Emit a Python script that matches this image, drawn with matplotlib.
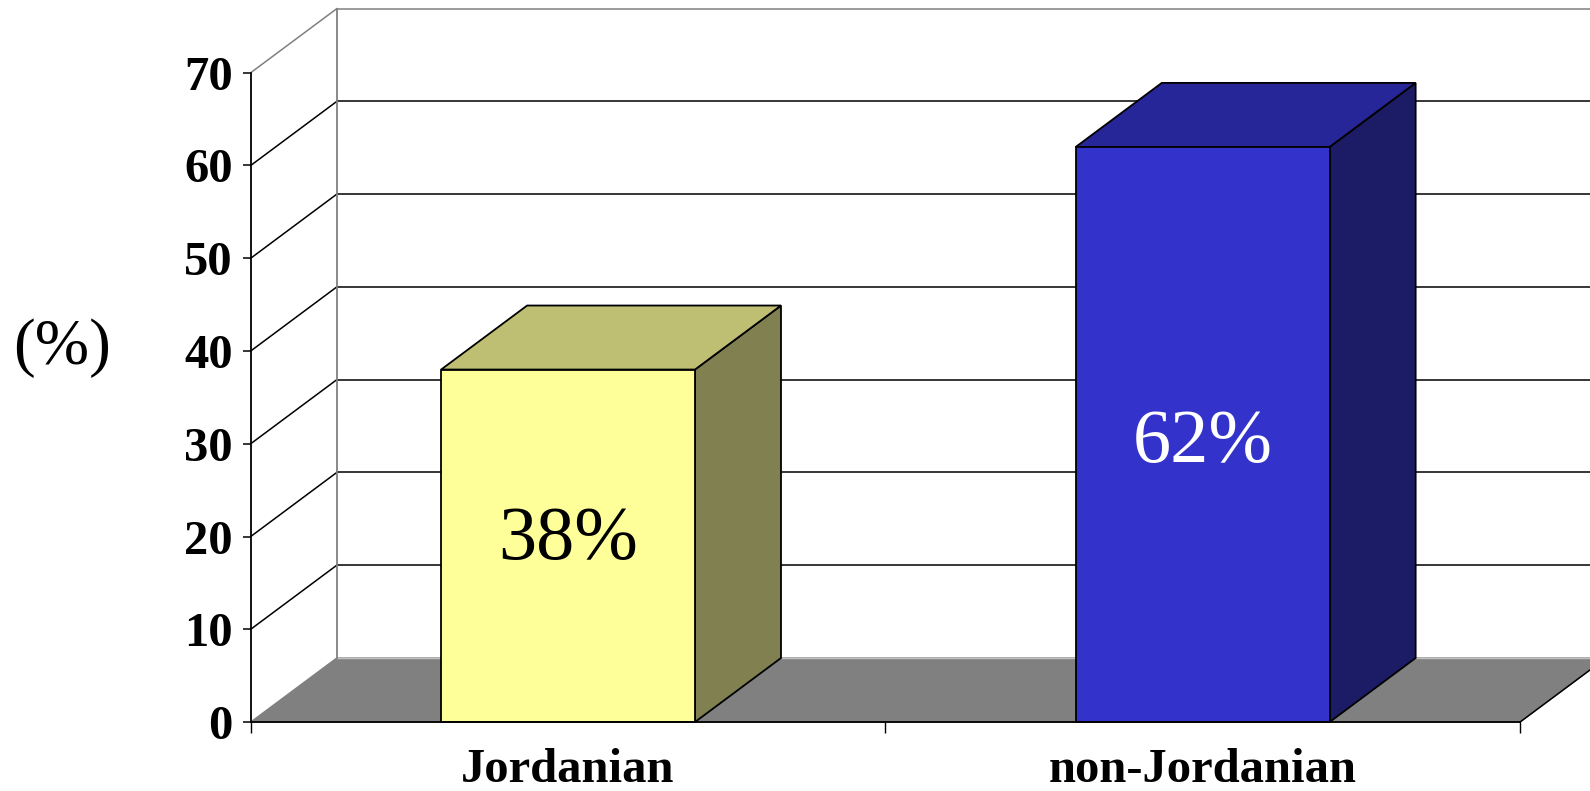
import matplotlib.pyplot as plt
from matplotlib.patches import Polygon

# data
categories = ['Jordanian', 'non-Jordanian']
values = [38, 62]
labels = ['38%', '62%']
y_ticks = [0, 10, 20, 30, 40, 50, 60, 70]

front_colors = ['#FFFF99', '#3333CC']
top_colors = ['#BFBF73', '#262699']
side_colors = ['#808050', '#1C1C66']
label_colors = ['black', 'white']
label_y = [19.6, 30.0]

# fake 3D depth offset (data units)
dx = 0.1355
dy = 6.9
bar_w = 0.4

plt.rcParams['font.family'] = ['Liberation Serif', 'DejaVu Serif']

fig = plt.figure(figsize=(15.9, 7.91), dpi=100)
ax = fig.add_axes([0.1577, 0.0872, 0.7983, 0.8209])
ax.set_xlim(0, 2)
ax.set_ylim(0, 70)
n = len(categories)

# floor
ax.add_patch(Polygon([(0, 0), (n, 0), (n + dx, dy), (dx, dy)], closed=True,
                     facecolor='#808080', edgecolor='#808080', lw=1, clip_on=False, zorder=1))
ax.plot([n, n + dx], [0, dy], color='black', lw=1.1, clip_on=False, zorder=2)
ax.plot([dx, n + dx], [dy, dy], color='#C0C0C0', lw=1, clip_on=False, zorder=2)

# left wall + back wall gridlines
for t in y_ticks[1:]:
    c = '#808080' if t == y_ticks[-1] else 'black'
    ax.plot([0, dx], [t, t + dy], color=c, lw=1.1, clip_on=False, zorder=2)
    ax.plot([dx, n + dx], [t + dy, t + dy], color=c, lw=1.1, clip_on=False, zorder=2)
ax.plot([dx, dx], [dy, y_ticks[-1] + dy], color='#808080', lw=1.3, clip_on=False, zorder=2)

# bars
centers = [i + 0.5 for i in range(n)]
for i, v in enumerate(values):
    x0 = centers[i] - bar_w / 2
    x1 = centers[i] + bar_w / 2
    ax.add_patch(Polygon([(x1, 0), (x1 + dx, dy), (x1 + dx, v + dy), (x1, v)], closed=True,
                         facecolor=side_colors[i], edgecolor='black', lw=1.3,
                         clip_on=False, zorder=3))
    ax.add_patch(Polygon([(x0, v), (x1, v), (x1 + dx, v + dy), (x0 + dx, v + dy)], closed=True,
                         facecolor=top_colors[i], edgecolor='black', lw=1.3,
                         clip_on=False, zorder=3))
ax.bar(centers, values, width=bar_w, color=front_colors, edgecolor='black',
       linewidth=1.3, zorder=4, clip_on=False)

for i, v in enumerate(values):
    ax.text(centers[i], label_y[i], labels[i], ha='center', va='center',
            fontsize=55, color=label_colors[i], zorder=5)

# axes styling
ax.set_facecolor('none')
for s in ['top', 'right']:
    ax.spines[s].set_visible(False)
ax.spines['left'].set_linewidth(1.3)
ax.spines['bottom'].set_linewidth(1.3)
ax.spines['left'].set_zorder(6)
ax.spines['bottom'].set_zorder(6)

ax.set_yticks(y_ticks)
ax.set_yticklabels([str(t) for t in y_ticks], fontsize=35, fontweight='bold')
ax.tick_params(axis='y', direction='out', length=6, width=1.1, pad=7)

ax.set_xticks([0, 1, 2])
ax.set_xticklabels(['', '', ''])
ax.set_xticks(centers, minor=True)
ax.set_xticklabels(categories, minor=True, fontsize=35, fontweight='bold')
ax.tick_params(axis='x', which='major', direction='out', length=8, width=1.0)
ax.tick_params(axis='x', which='minor', length=0, pad=19)

fig.text(62 / 1590, 1 - 348 / 791, '(%)', ha='center', va='center', fontsize=47)

fig.savefig('out.png', dpi=100, facecolor='white')
